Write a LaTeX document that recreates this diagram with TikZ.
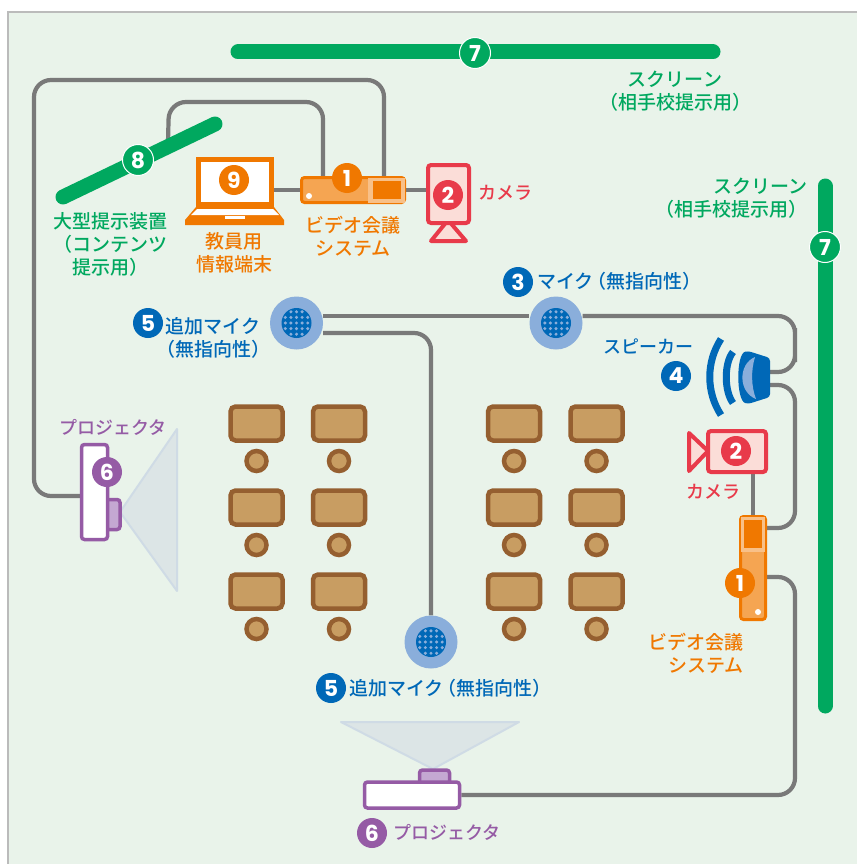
\documentclass[tikz,border=0pt]{standalone}
\usepackage{fontspec}
\newfontfamily\jpfont{Noto Sans CJK JP Medium}
\newfontfamily\badgefont{Poppins}
\usetikzlibrary{calc}

\definecolor{panelbg}{HTML}{E9F3EA}
\definecolor{panelline}{HTML}{BBBBBB}
\definecolor{cablegray}{HTML}{797979}
\definecolor{scrgreen}{HTML}{00A85F}
\definecolor{devorange}{HTML}{F07800}
\definecolor{devorangeL}{HTML}{F5A552}
\definecolor{devorangeM}{HTML}{F8C088}
\definecolor{camred}{HTML}{E83A4A}
\definecolor{campink}{HTML}{FBDDD8}
\definecolor{micblue}{HTML}{0068B7}
\definecolor{miclight}{HTML}{8AAEDB}
\definecolor{projpurple}{HTML}{955BA5}
\definecolor{projlens}{HTML}{C4A8D2}
\definecolor{beamfill}{HTML}{DCE5E6}
\definecolor{beamline}{HTML}{CFDBE5}
\definecolor{deskbrown}{HTML}{955F30}
\definecolor{desktan}{HTML}{C89D62}

\pgfdeclarelayer{panel}
\pgfdeclarelayer{wires}
\pgfsetlayers{panel,wires,main}

\tikzset{
    cable/.style={draw=cablegray, line width=4.2pt, rounded corners=17pt},
    screenbar/.style={draw=scrgreen, line width=15pt, line cap=round},
    badge/.style={circle, fill=#1, text=white, inner sep=0pt, minimum size=30pt,
        font=\badgefont\bfseries\fontsize{22}{22}\selectfont},
    ringbadge/.style={badge=#1, draw=white, line width=1pt, minimum size=31pt},
    label/.style={text=#1, align=center, inner sep=0pt,
        font=\jpfont\fontsize{19}{23}\selectfont},
    kanalabel/.style={label=#1, font=\jpfont\fontsize{18}{23}\selectfont},
    codec/.style={draw=devorange, fill=devorangeL, line width=3pt, rounded corners=3pt, inner sep=0pt},
    cam/.style={draw=camred, fill=campink, line width=4pt, rounded corners=3pt, inner sep=0pt},
    camstand/.style={draw=camred, fill=campink, line width=4pt, line join=round},
    proj/.style={draw=projpurple, line width=3.5pt, rounded corners=3pt, inner sep=0pt},
    beam/.style={draw=beamline, fill=beamfill, line width=2pt, line join=round},
    micbase/.style={circle, fill=miclight, inner sep=0pt, minimum size=53pt},
    desk/.style={draw=deskbrown, fill=desktan, line width=4.5pt, rounded corners=5pt,
        minimum width=52pt, minimum height=34pt, inner sep=0pt},
    seat/.style={circle, draw=deskbrown, fill=desktan, line width=4.5pt, minimum size=20pt, inner sep=0pt},
}

% dark centre and dots of a microphone
\newcommand{\micface}[1]{
    \fill[micblue] (#1) circle (15pt);
    \foreach \dx in {-2,...,2} {
        \foreach \dy in {-2,...,2} {
            \pgfmathtruncatemacro{\dist}{\dx*\dx+\dy*\dy}
            \ifnum\dist<8
                \fill[miclight] ($(#1)+(\dx*5.6,\dy*5.6)$) circle (1.7pt);
            \fi
        }
    }
}

\begin{document}
\begin{tikzpicture}[x=1pt, y=-1pt]
    \useasboundingbox (0,0) rectangle (857,864);

    % Room
    \begin{pgfonlayer}{panel}
        \fill[panelbg] (8,12) rectangle (857,864);
        \draw[panelline, line width=1.5pt] (857,12) -- (8,12) -- (8,864);
    \end{pgfonlayer}

    % Screens
    \coordinate (topA) at (238,52);
    \coordinate (topB) at (713,52);
    \draw[screenbar] (topA) -- (topB);
    \node[ringbadge=scrgreen] (b7a) at (475,53) {7};
    \coordinate (sideA) at (825,186);
    \coordinate (sideB) at (825,706);
    \draw[screenbar] (sideA) -- (sideB);
    \node[ringbadge=scrgreen] (b7b) at (825,247) {7};
    \node[label=scrgreen] (scrTop) at (675,91) {スクリーン\\（相手校提示用）};
    \node[label=scrgreen, align=right, anchor=east] (scrSide) at (808,198) {スクリーン\\（相手校提示用）};

    % Large display
    \coordinate (dispA) at (63,197);
    \coordinate (dispB) at (215,124);
    \coordinate (dispPort) at ($(dispA)!0.69!(dispB)$);
    \draw[screenbar] (dispA) -- (dispB);
    \node[ringbadge=scrgreen] (b8) at (138,160) {8};
    \node[label=scrgreen] (dispLabel) at (110,244) {大型提示装置\\（コンテンツ\\提示用）};

    % Teacher laptop
    \node[draw=devorange, fill=white, line width=5pt, inner sep=0pt, minimum width=73pt, minimum height=45pt] (laptop) at (235,182) {};
    \fill[devorange] (196,207) -- (274,207) -- (284,220) -- (284,225) -- (185,225) -- (185,220) -- cycle;
    \fill[white] (197,209) -- (273,209) -- (279,215) -- (191,215) -- cycle;
    \fill[white] (225,216) rectangle (245,219);
    \node[badge=devorange] (b9) at (234,180) {9};
    \node[label=devorange] (laptopLabel) at (234,253) {教員用\\情報端末};

    % Front video conference unit and camera
    \node[codec, minimum width=103pt, minimum height=25pt] (codecA) at (353,190) {};
    \fill[devorangeM] (368,178) rectangle (404.5,202.5);
    \fill[devorange] (373,181) rectangle (401,199);
    \fill[white] (309,196) circle (3pt);
    \node[badge=devorange] (b1a) at (347,178) {1};
    \node[label=devorange] (codecALabel) at (353,236) {ビデオ会議\\システム};
    \draw[camstand] (448,220) -- (431,241) -- (466,241) -- cycle;
    \node[cam, minimum width=41pt, minimum height=58pt] (camA) at (448.5,194) {};
    \node[badge=camred] (b2a) at (448,195) {2};
    \node[kanalabel=camred] (camALabel) at (505,193) {カメラ};

    % Microphones
    \node[micbase] (micL) at (296.5,323) {};
    \node[micbase] (micC) at (556,323) {};
    \node[micbase] (micB) at (431,642) {};
    \micface{micL}
    \micface{micC}
    \micface{micB}
    \node[badge=micblue] (b3) at (518,282) {3};
    \node[label=micblue, anchor=west] (micCLabel) at (537,281) {マイク\kern-6pt（無指向性）};
    \node[badge=micblue] (b5a) at (148,323) {5};
    \node[label=micblue] (micLLabel) at (213,338) {追加マイク\\（無指向性）};
    \node[badge=micblue] (b5b) at (331,688) {5};
    \node[label=micblue, anchor=west] (micBLabel) at (349,688) {追加マイク\kern-6pt（無指向性）};

    % Speaker
    \draw[micblue, line width=7pt] (733,352) .. controls (724,363) and (724,391) .. (733,403);
    \draw[micblue, line width=7pt] (721,339) .. controls (706,362) and (706,392) .. (721,415);
    \fill[micblue, rounded corners=3pt] (770,358) -- (770,397) -- (748,404)
        .. controls (736,400) and (736,354) .. (748,351) -- cycle;
    \fill[miclight] (755,357) .. controls (738,364) and (738,392) .. (756,399)
        .. controls (751,386) and (751,370) .. (755,357) -- cycle;
    \coordinate (spkIn) at (768,372);
    \coordinate (spkOut) at (768,385);
    \node[kanalabel=micblue] (spkLabel) at (648,346) {スピーカー};
    \node[badge=micblue] (b4) at (676,376) {4};

    % Side camera and video conference unit
    \draw[camstand] (689,433) -- (708,451) -- (689,471) -- cycle;
    \node[cam, minimum width=58pt, minimum height=41pt] (camB) at (737,451.5) {};
    \node[badge=camred] (b2b) at (736,451) {2};
    \node[kanalabel=camred] (camBLabel) at (713,492) {カメラ};
    \node[codec, minimum width=25pt, minimum height=103pt] (codecB) at (753,568) {};
    \fill[devorangeM] (741,517) rectangle (765,552);
    \fill[devorange] (744,520) rectangle (762,548);
    \fill[white] (758,612) circle (3pt);
    \node[badge=devorange] (b1b) at (740,583) {1};
    \node[label=devorange, align=right, anchor=east] (codecBLabel) at (744,653) {ビデオ会議\\システム};

    % Projectors
    \draw[beam] (120,512) -- (177,429) -- (177,591) -- cycle;
    \node[proj, fill=projlens, minimum width=14pt, minimum height=30pt] (lensL) at (113,514.5) {};
    \node[proj, fill=white, minimum width=26pt, minimum height=95pt] (projL) at (94.5,492) {};
    \node[badge=projpurple] (b6a) at (107,472) {6};
    \node[kanalabel=projpurple] (projLLabel) at (113,427) {プロジェクタ};
    \draw[beam] (433,769) -- (341,722) -- (519,722) -- cycle;
    \node[proj, fill=projlens, minimum width=30pt, minimum height=14pt] (lensB) at (434.5,777) {};
    \node[proj, fill=white, minimum width=95pt, minimum height=26pt] (projB) at (412,795) {};
    \node[badge=projpurple] (b6b) at (372,833) {6};
    \node[kanalabel=projpurple] (projBLabel) at (447,832) {プロジェクタ};

    % Desks and seats
    \foreach \col/\x in {a/256.5,b/339,c/514,d/596.5} {
        \foreach \row/\y in {1/423.5,2/507.5,3/591.5} {
            \node[desk] (desk\col\row) at (\x,\y) {};
            \node[seat] (seat\col\row) at ($(desk\col\row)+(0,37.5)$) {};
        }
    }

    % Cables
    \begin{pgfonlayer}{wires}
        \draw[cable] ([xshift=31pt]codecA.north) |- (34,80) |- ([yshift=-4pt]projL.west);
        \draw[cable] ([xshift=-30pt]codecA.north) |- (169,102) -- (dispPort);
        \draw[cable] (laptop.east |- codecA) -- (codecA);
        \draw[cable] (codecA) -- (camA.west |- codecA);
        \draw[cable] ([yshift=7pt]micL.east) -- ([yshift=7pt]micC.west);
        \draw[cable] ([yshift=7pt]micC.east) -| (795,345) |- (spkIn);
        \draw[cable] ([yshift=-10pt]micL.east) -| (micB.north);
        \draw[cable] (spkOut) -| (795,450) |- ([yshift=40pt]codecB.east);
        \draw[cable] (codecB.north |- camB.south) -- (codecB.north);
        \draw[cable] ([yshift=-9pt]codecB.east) -| (795,700) |- (projB.east);
    \end{pgfonlayer}
\end{tikzpicture}
\end{document}
